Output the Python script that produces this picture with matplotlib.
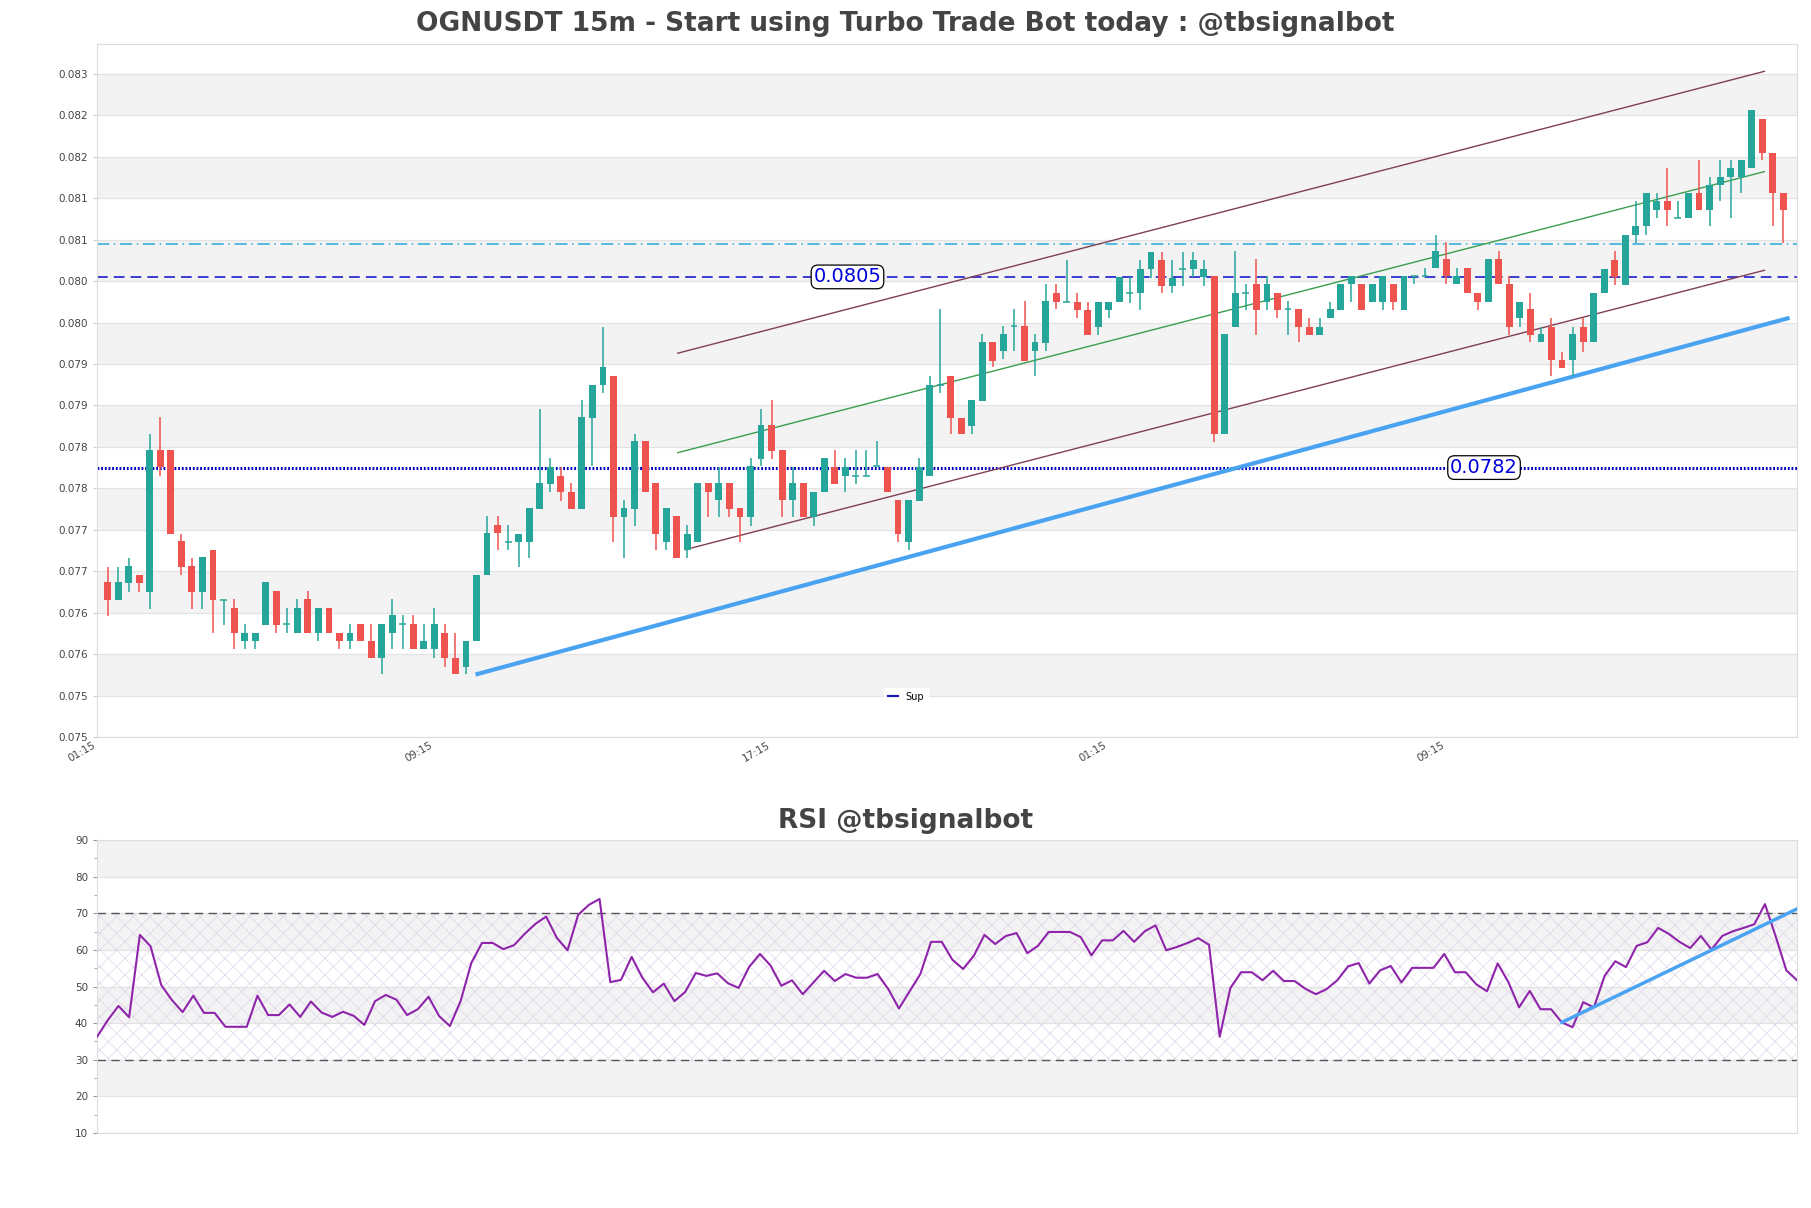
import numpy as np
import matplotlib
matplotlib.use('Agg')
import matplotlib.pyplot as plt
from matplotlib.lines import Line2D

# --- candle data (15m OGNUSDT), index 1..160 ---
opens = [0.07687, 0.07665, 0.07686, 0.07696, 0.07675, 0.07846, 0.07846, 0.07736, 0.07706, 0.07675,
         0.07726, 0.07665, 0.07656, 0.07616, 0.07616, 0.07635, 0.07676, 0.07636, 0.07626, 0.07666,
         0.07626, 0.07656, 0.07626, 0.07616, 0.07636, 0.07616, 0.07595, 0.07626, 0.07636, 0.07636,
         0.07606, 0.07606, 0.07626, 0.07595, 0.07585, 0.07616, 0.07696, 0.07756, 0.07735, 0.07735,
         0.07735, 0.07775, 0.07805, 0.07815, 0.07796, 0.07775, 0.07885, 0.07925, 0.07936, 0.07765,
         0.07775, 0.07857, 0.07806, 0.07735, 0.07766, 0.07725, 0.07735, 0.07806, 0.07786, 0.07806,
         0.07776, 0.07765, 0.07835, 0.07876, 0.07846, 0.07786, 0.07806, 0.07765, 0.07795, 0.07826,
         0.07815, 0.07815, 0.07815, 0.07827, 0.07826, 0.07786, 0.07735, 0.07785, 0.07815, 0.07925,
         0.07936, 0.07885, 0.07875, 0.07905, 0.07976, 0.07966, 0.07996, 0.07996, 0.07966, 0.07975,
         0.08036, 0.08025, 0.08025, 0.08015, 0.07995, 0.08015, 0.08025, 0.08035, 0.08035, 0.08064,
         0.08076, 0.08044, 0.08065, 0.08065, 0.08055, 0.08056, 0.07866, 0.07995, 0.08036, 0.08046,
         0.08025, 0.08036, 0.08016, 0.08016, 0.07995, 0.07985, 0.08005, 0.08015, 0.08046, 0.08046,
         0.08025, 0.08025, 0.08046, 0.08015, 0.08056, 0.08056, 0.08066, 0.08077, 0.08046, 0.08066,
         0.08036, 0.08025, 0.08077, 0.08046, 0.08005, 0.08016, 0.07976, 0.07995, 0.07955, 0.07955,
         0.07995, 0.07976, 0.08036, 0.08076, 0.08045, 0.08105, 0.08116, 0.08136, 0.08146, 0.08126,
         0.08126, 0.08156, 0.08136, 0.08166, 0.08175, 0.08175, 0.08186, 0.08245, 0.08205, 0.08156]
highs = [0.07705, 0.07705, 0.07716, 0.07696, 0.07866, 0.07886, 0.07846, 0.07745, 0.07716, 0.07717,
         0.07726, 0.07665, 0.07666, 0.07636, 0.07626, 0.07687, 0.07676, 0.07656, 0.07666, 0.07676,
         0.07656, 0.07656, 0.07626, 0.07636, 0.07636, 0.07636, 0.07636, 0.07666, 0.07647, 0.07647,
         0.07636, 0.07656, 0.07636, 0.07626, 0.07616, 0.07696, 0.07766, 0.07766, 0.07756, 0.07745,
         0.07776, 0.07896, 0.07836, 0.07826, 0.07806, 0.07906, 0.07925, 0.07995, 0.07936, 0.07786,
         0.07866, 0.07857, 0.07806, 0.07776, 0.07766, 0.07756, 0.07806, 0.07806, 0.07826, 0.07806,
         0.07776, 0.07836, 0.07896, 0.07906, 0.07846, 0.07826, 0.07806, 0.07796, 0.07836, 0.07846,
         0.07836, 0.07846, 0.07846, 0.07857, 0.07826, 0.07786, 0.07786, 0.07836, 0.07936, 0.08016,
         0.07936, 0.07885, 0.07906, 0.07986, 0.07976, 0.07996, 0.08016, 0.08026, 0.07986, 0.08046,
         0.08046, 0.08076, 0.08036, 0.08025, 0.08025, 0.08025, 0.08055, 0.08055, 0.08076, 0.08085,
         0.08085, 0.08076, 0.08085, 0.08085, 0.08076, 0.08056, 0.07986, 0.08086, 0.08046, 0.08077,
         0.08056, 0.08036, 0.08026, 0.08016, 0.08005, 0.08005, 0.08025, 0.08046, 0.08056, 0.08046,
         0.08046, 0.08056, 0.08046, 0.08056, 0.08056, 0.08066, 0.08106, 0.08097, 0.08066, 0.08066,
         0.08036, 0.08077, 0.08086, 0.08056, 0.08025, 0.08036, 0.07995, 0.08005, 0.07965, 0.07995,
         0.08005, 0.08036, 0.08065, 0.08086, 0.08105, 0.08146, 0.08156, 0.08156, 0.08186, 0.08146,
         0.08156, 0.08196, 0.08175, 0.08196, 0.08196, 0.08196, 0.08256, 0.08245, 0.08205, 0.08156]
lows = [0.07646, 0.07665, 0.07675, 0.07675, 0.07655, 0.07815, 0.07745, 0.07695, 0.07655, 0.07655,
        0.07626, 0.07635, 0.07606, 0.07606, 0.07606, 0.07635, 0.07626, 0.07626, 0.07626, 0.07626,
        0.07616, 0.07626, 0.07606, 0.07606, 0.07616, 0.07595, 0.07576, 0.07606, 0.07606, 0.07606,
        0.07606, 0.07595, 0.07585, 0.07576, 0.07576, 0.07616, 0.07696, 0.07725, 0.07725, 0.07705,
        0.07716, 0.07775, 0.07795, 0.07785, 0.07775, 0.07775, 0.07827, 0.07915, 0.07735, 0.07716,
        0.07755, 0.07795, 0.07725, 0.07725, 0.07716, 0.07716, 0.07735, 0.07765, 0.07765, 0.07765,
        0.07735, 0.07755, 0.07827, 0.07835, 0.07765, 0.07765, 0.07765, 0.07755, 0.07795, 0.07805,
        0.07795, 0.07805, 0.07815, 0.07827, 0.07796, 0.07735, 0.07725, 0.07785, 0.07815, 0.07915,
        0.07866, 0.07866, 0.07866, 0.07905, 0.07946, 0.07956, 0.07966, 0.07954, 0.07935, 0.07966,
        0.08016, 0.08025, 0.08005, 0.07985, 0.07985, 0.08005, 0.08025, 0.08024, 0.08015, 0.08054,
        0.08035, 0.08035, 0.08044, 0.08055, 0.08044, 0.07856, 0.07866, 0.07995, 0.08015, 0.07985,
        0.08015, 0.08005, 0.07985, 0.07976, 0.07985, 0.07985, 0.08005, 0.08015, 0.08025, 0.08015,
        0.08025, 0.08015, 0.08015, 0.08015, 0.08046, 0.08056, 0.08066, 0.08046, 0.08046, 0.08036,
        0.08015, 0.08025, 0.08046, 0.07985, 0.07995, 0.07976, 0.07976, 0.07935, 0.07945, 0.07935,
        0.07965, 0.07976, 0.08036, 0.08045, 0.08045, 0.08096, 0.08105, 0.08126, 0.08116, 0.08126,
        0.08126, 0.08136, 0.08116, 0.08146, 0.08126, 0.08156, 0.08186, 0.08196, 0.08116, 0.08096]
closes = [0.07665, 0.07687, 0.07706, 0.07686, 0.07846, 0.07826, 0.07745, 0.07705, 0.07675, 0.07717,
          0.07665, 0.07665, 0.07626, 0.07626, 0.07626, 0.07687, 0.07635, 0.07636, 0.07656, 0.07626,
          0.07656, 0.07626, 0.07616, 0.07626, 0.07616, 0.07595, 0.07636, 0.07647, 0.07636, 0.07606,
          0.07616, 0.07636, 0.07595, 0.07576, 0.07616, 0.07696, 0.07746, 0.07746, 0.07735, 0.07745,
          0.07776, 0.07806, 0.07826, 0.07795, 0.07775, 0.07886, 0.07925, 0.07946, 0.07765, 0.07776,
          0.07857, 0.07795, 0.07745, 0.07776, 0.07716, 0.07745, 0.07806, 0.07795, 0.07806, 0.07775,
          0.07765, 0.07827, 0.07876, 0.07845, 0.07786, 0.07806, 0.07765, 0.07796, 0.07836, 0.07805,
          0.07826, 0.07815, 0.07815, 0.07827, 0.07796, 0.07745, 0.07786, 0.07826, 0.07925, 0.07925,
          0.07885, 0.07866, 0.07906, 0.07976, 0.07954, 0.07986, 0.07996, 0.07954, 0.07976, 0.08026,
          0.08025, 0.08025, 0.08015, 0.07985, 0.08025, 0.08025, 0.08055, 0.08035, 0.08065, 0.08085,
          0.08044, 0.08054, 0.08065, 0.08076, 0.08065, 0.07866, 0.07986, 0.08036, 0.08036, 0.08015,
          0.08046, 0.08015, 0.08016, 0.07995, 0.07985, 0.07995, 0.08016, 0.08046, 0.08056, 0.08015,
          0.08046, 0.08056, 0.08025, 0.08056, 0.08056, 0.08056, 0.08086, 0.08056, 0.08056, 0.08036,
          0.08025, 0.08077, 0.08046, 0.07995, 0.08025, 0.07985, 0.07986, 0.07955, 0.07945, 0.07986,
          0.07976, 0.08036, 0.08065, 0.08055, 0.08105, 0.08116, 0.08156, 0.08146, 0.08136, 0.08126,
          0.08156, 0.08136, 0.08166, 0.08175, 0.08186, 0.08196, 0.08256, 0.08205, 0.08156, 0.08136]

rsi = [36.3, 40.8, 44.7, 41.6, 64.1, 61.0, 50.4, 46.3, 43.0, 47.5,
       42.8, 42.8, 39.0, 39.0, 39.0, 47.5, 42.2, 42.2, 45.1, 41.7,
       45.9, 42.9, 41.7, 43.1, 42.0, 39.5, 46.0, 47.7, 46.4, 42.2,
       43.8, 47.2, 41.9, 39.2, 46.0, 56.4, 61.9, 61.9, 60.2, 61.3,
       64.4, 67.1, 69.1, 63.3, 59.9, 69.6, 72.3, 73.9, 51.2, 51.8,
       58.1, 52.4, 48.4, 50.8, 46.0, 48.5, 53.7, 52.9, 53.6, 50.9,
       49.6, 55.4, 58.9, 55.7, 50.2, 51.7, 47.9, 51.1, 54.3, 51.5,
       53.4, 52.4, 52.4, 53.4, 49.3, 44.0, 48.7, 53.4, 62.2, 62.2,
       57.3, 54.8, 58.4, 64.1, 61.6, 63.8, 64.6, 59.1, 61.1, 64.9,
       64.9, 64.9, 63.5, 58.5, 62.6, 62.6, 65.2, 62.2, 65.1, 66.7,
       59.9, 60.8, 61.9, 63.2, 61.4, 36.3, 49.6, 53.9, 53.9, 51.7,
       54.3, 51.5, 51.5, 49.4, 47.9, 49.3, 51.7, 55.5, 56.4, 50.8,
       54.4, 55.6, 51.1, 55.1, 55.1, 55.1, 58.9, 53.9, 53.9, 50.6,
       48.7, 56.3, 51.2, 44.3, 48.8, 43.8, 43.8, 40.2, 38.9, 45.7,
       44.3, 52.9, 56.9, 55.3, 61.1, 62.1, 66.0, 64.4, 62.2, 60.5,
       63.8, 60.1, 63.8, 65.1, 66.0, 67.0, 72.5, 63.7, 54.4, 51.7]

# levels and trend lines
res_level = 0.08095
mid_level = 0.08055
sup_level = 0.07825
chan_x = [55.1, 158.2]
chan_upper = [0.07963, 0.08303]
chan_mid = [0.07843, 0.08182]
chan_lower_x = [55.8, 158.2]
chan_lower = [0.07726, 0.08063]
sup_x = [36.1, 160.4]
sup_y = [0.07576, 0.08005]
rsi_trend_x = [138, 160]
rsi_trend_y = [40.2, 71.2]

xtick_pos = [0, 32, 64, 96, 128]
xtick_labels = ['01:15', '09:15', '17:15', '01:15', '09:15']
ytick_pos = [0.0750 + 0.0005 * i for i in range(17)]
ytick_labels = ['0.075', '0.075', '0.076', '0.076', '0.077', '0.077', '0.078', '0.078', '0.079',
                '0.079', '0.080', '0.080', '0.081', '0.081', '0.082', '0.082', '0.083']

UP = '#26a69a'
DOWN = '#ef5350'
GRID = '#e3e3e3'
BAND = '#f3f3f3'
TXT = '#444444'

fig = plt.figure(figsize=(18.11, 12.08), dpi=100)
ax = fig.add_axes([0.0536, 0.3899, 0.9387, 0.5737])
ax2 = fig.add_axes([0.0536, 0.0621, 0.9387, 0.2425])

# price panel background
for k in range(8):
    lo = 0.0755 + 0.001 * k
    ax.axhspan(lo, lo + 0.0005, color=BAND, zorder=0, lw=0)
for t in ytick_pos:
    ax.axhline(t, color=GRID, lw=0.9, zorder=0.5)

o = np.array(opens)
h = np.array(highs)
l = np.array(lows)
c = np.array(closes)
x = np.arange(1, len(o) + 1)
up = c >= o
cols = np.where(up, UP, DOWN)

ax.vlines(x, l, h, colors=cols, lw=1.1, zorder=3)
body = np.abs(c - o)
ax.bar(x, body, bottom=np.minimum(o, c), width=0.65, color=cols, zorder=4, lw=0)
doji = body == 0
ax.hlines(c[doji], x[doji] - 0.33, x[doji] + 0.33, colors=UP, lw=1.1, zorder=4)

ax.axhline(res_level, color='#2aa9d8', lw=1.1, ls=(0, (8, 3, 1, 3)), zorder=2)
ax.axhline(mid_level, color='#0a0ac8', lw=1.1, ls=(0, (7, 4)), zorder=2)
ax.axhline(sup_level, color='#0000c0', lw=2.2, ls=(0, (0.6, 0.6)), zorder=2)

ax.plot(chan_x, chan_upper, color='#7f3f55', lw=1, zorder=2)
ax.plot(chan_x, chan_mid, color='#3a9e4e', lw=1, zorder=2)
ax.plot(chan_lower_x, chan_lower, color='#7f3f55', lw=1, zorder=2)
ax.plot(sup_x, sup_y, color='#4aa3f0', lw=3, zorder=2.5)

box = dict(boxstyle='round,pad=0.12,rounding_size=0.35', fc='white', ec='black', lw=0.9)
ax.text(71.2, mid_level, '0.0805', ha='center', va='center', color='#0000dd', fontsize=14,
        bbox=box, zorder=6)
ax.text(131.6, sup_level, '0.0782', ha='center', va='center', color='#0000dd', fontsize=14,
        bbox=box, zorder=6)

ax.legend(handles=[Line2D([], [], color='#1c1cb0', lw=1.6)], labels=['Sup'],
          loc='center', bbox_to_anchor=(0.476, 0.058), fontsize=7, handlelength=1.0,
          frameon=True, framealpha=1, edgecolor='white', fancybox=False, borderpad=0.4)

ax.set_xlim(0, 161.3)
ax.set_ylim(0.0750, 0.08336)
ax.set_yticks(ytick_pos)
ax.set_yticklabels(ytick_labels)
ax.set_xticks(xtick_pos)
ax.set_xticklabels(xtick_labels, rotation=30, ha='right')
ax.tick_params(axis='both', labelsize=7.5, labelcolor=TXT, color='#cccccc', length=3)
ax.tick_params(axis='x', length=0, pad=2)
for s in ax.spines.values():
    s.set_color('#dddddd')
fig.text(0.5, 0.980, 'OGNUSDT 15m - Start using Turbo Trade Bot today : @tbsignalbot',
         ha='center', va='center', fontsize=19, fontweight='bold', color=TXT)

# RSI panel
for lo in [20, 40, 60, 80]:
    ax2.axhspan(lo, lo + 10, color=BAND, zorder=0, lw=0)
for t in range(10, 100, 10):
    ax2.axhline(t, color=GRID, lw=0.9, zorder=0.5)
plt.rcParams['hatch.linewidth'] = 0.5
ax2.fill_between([1, 160], 30, 70, facecolor='none', edgecolor='#dfd4ea', hatch='xx', lw=0, zorder=1)
ax2.axhline(70, color='#555555', lw=1, ls=(0, (6, 4)), zorder=2)
ax2.axhline(30, color='#555555', lw=1, ls=(0, (6, 4)), zorder=2)

xr = np.arange(1, len(rsi) + 1)
ax2.plot(xr, rsi, color='#8e24aa', lw=1.5, zorder=3)
ax2.plot(rsi_trend_x, rsi_trend_y, color='#4aa3f0', lw=2.5, zorder=3.5)

ax2.set_xlim(1, 160)
ax2.set_ylim(10, 90)
ax2.set_yticks(range(10, 100, 10))
ax2.set_yticks(range(15, 90, 10), minor=True)
ax2.set_xticks([])
ax2.tick_params(axis='y', which='both', labelsize=7.5, labelcolor=TXT, color='#999999')
ax2.tick_params(axis='y', which='major', length=3)
ax2.tick_params(axis='y', which='minor', length=2)
for s in ax2.spines.values():
    s.set_color('#dddddd')
fig.text(0.5, 0.320, 'RSI @tbsignalbot', ha='center', va='center',
         fontsize=19, fontweight='bold', color=TXT)

fig.savefig('out.png', dpi=100)
